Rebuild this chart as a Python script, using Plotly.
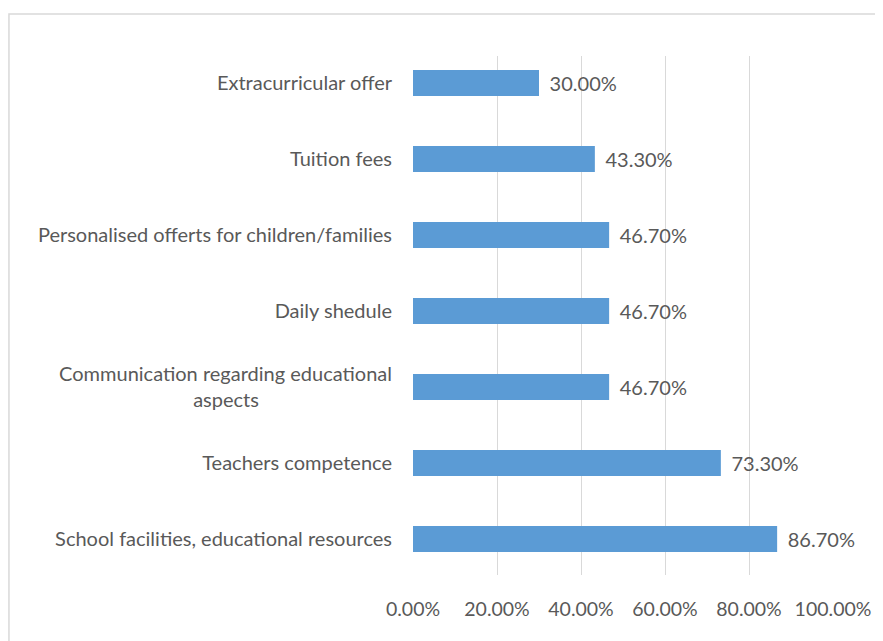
import plotly.graph_objects as go

categories = [
    "School facilities, educational resources",
    "Teachers competence",
    "Communication regarding educational<br>aspects",
    "Daily shedule",
    "Personalised offerts for children/families",
    "Tuition fees",
    "Extracurricular offer",
]
values = [0.867, 0.733, 0.467, 0.467, 0.467, 0.433, 0.30]
x_ticks = [0, 0.2, 0.4, 0.6, 0.8, 1.0]

FONT = "Lato, sans-serif"
GREY = "#595959"
FS = 20

ticktext = []
for c in categories:
    if "<br>" in c:
        a, b = c.split("<br>")
        ticktext.append(a + "<br>" + b + "\u00a0" * 26)
    else:
        ticktext.append(c)

fig = go.Figure(go.Bar(
    x=values,
    y=list(range(len(categories))),
    orientation="h",
    width=0.34,
    marker=dict(color="#5B9BD5", line=dict(width=0)),
    text=["\u00a0\u2009" + f"{v*100:.2f}%" for v in values],
    textposition="outside",
    textfont=dict(family=FONT, size=FS, color=GREY),
    cliponaxis=False,
    hoverinfo="skip",
))

fig.update_layout(
    width=883, height=641,
    margin=dict(l=405, r=58, t=48, b=74),
    paper_bgcolor="white", plot_bgcolor="white",
    showlegend=False,
    font=dict(family=FONT, size=FS, color=GREY),
    xaxis=dict(
        range=[0, 1.0], tickvals=x_ticks,
        ticktext=[f"{t*100:.2f}%" for t in x_ticks],
        showgrid=True, gridcolor="#D9D9D9", gridwidth=1,
        zeroline=False, showline=False, ticks="",
        ticklabelstandoff=20,
        tickfont=dict(family=FONT, size=19.5, color=GREY),
        fixedrange=True,
    ),
    yaxis=dict(
        range=[-0.474, 6.355],
        tickvals=list(range(len(categories))),
        ticktext=ticktext,
        showgrid=False, zeroline=False, showline=False, ticks="",
        ticklabelstandoff=20,
        tickfont=dict(family=FONT, size=FS, color=GREY),
        fixedrange=True,
    ),
    shapes=[dict(
        type="rect", xref="paper", yref="paper",
        x0=-0.962, x1=1.3, y0=-0.3, y1=1.081,
        line=dict(color="#D9D9D9", width=1.5), fillcolor="rgba(0,0,0,0)",
        layer="below",
    )],
)

fig.write_html("out.html")
